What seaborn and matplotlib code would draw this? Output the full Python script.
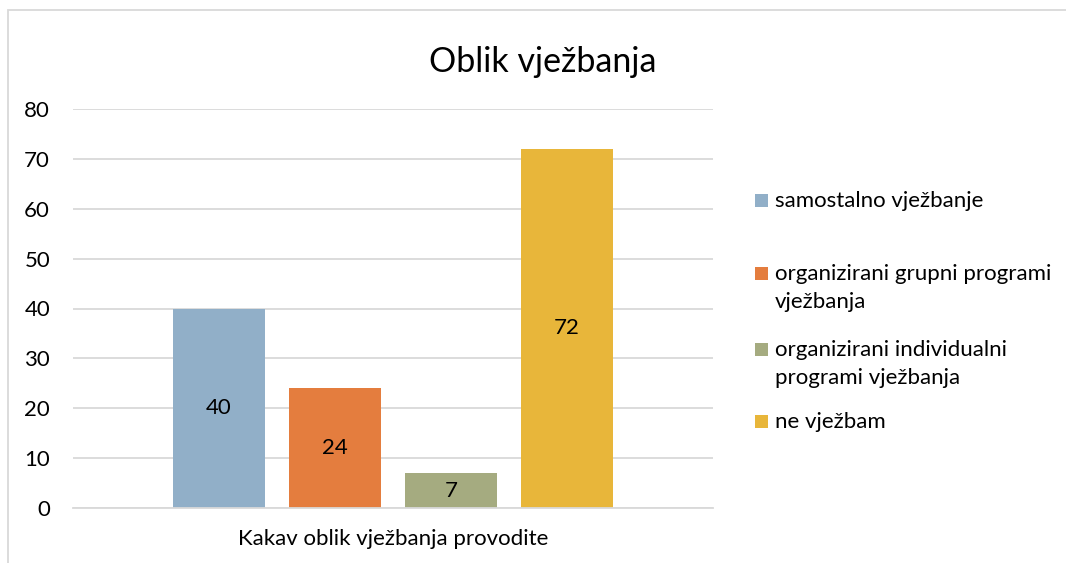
import matplotlib
matplotlib.use("Agg")
import matplotlib.pyplot as plt
import seaborn as sns
import pandas as pd
from matplotlib.patches import Rectangle

categories = ["Kakav oblik vježbanja provodite"]
series = ["samostalno vježbanje",
          "organizirani grupni programi vježbanja",
          "organizirani individualni programi vježbanja",
          "ne vježbam"]
legend_labels = ["samostalno vježbanje",
                 "organizirani grupni programi\nvježbanja",
                 "organizirani individualni\nprogrami vježbanja",
                 "ne vježbam"]
values = [40, 24, 7, 72]
colors = ["#91AFC8", "#E47D3E", "#A5AB80", "#E8B63A"]
title = "Oblik vježbanja"

sns.set_theme(style="white")
plt.rcParams["font.family"] = ["Lato", "DejaVu Sans"]

df = pd.DataFrame({"cat": categories * len(series), "series": series, "value": values})

W, H = 1066, 563
fig = plt.figure(figsize=(W / 100, H / 100), dpi=100)
ax = fig.add_axes([73 / W, 55 / H, 640 / W, 399 / H])

sns.barplot(data=df, x="cat", y="value", hue="series", hue_order=series,
            palette=colors, width=0.725, gap=0.207, legend=False, ax=ax,
            saturation=1, edgecolor="none", linewidth=0)

for c in ax.containers:
    ax.bar_label(c, label_type="center", fontsize=16, color="#000000")

ax.set_ylim(0, 80)
ax.set_xlim(-0.5, 0.5)
ax.set_yticks(range(0, 81, 10))
ax.yaxis.grid(True, color="#D9D9D9", linewidth=1.3)
ax.set_axisbelow(True)
for s in ["top", "right", "left"]:
    ax.spines[s].set_visible(False)
ax.spines["bottom"].set_color("#D9D9D9")
ax.spines["bottom"].set_linewidth(1.3)
ax.tick_params(axis="y", length=0, pad=16.5, labelsize=16, labelcolor="#000000")
ax.tick_params(axis="x", length=0, pad=15, labelsize=16, labelcolor="#000000")
ax.set_xlabel("")
ax.set_ylabel("")

fig.text(543 / W, 1 - 72 / H, title, ha="center", va="baseline", fontsize=24.5, color="#000000")

# legend (manual, Excel-like): baselines of first lines
first_baselines = [207, 280, 356, 428]
line_step = 28
for lab, col, yb in zip(legend_labels, colors, first_baselines):
    fig.patches.append(Rectangle((755 / W, 1 - yb / H), 13 / W, 13 / H,
                                 transform=fig.transFigure, facecolor=col, edgecolor="none"))
    for i, line in enumerate(lab.split("\n")):
        fig.text(775 / W, 1 - (yb + i * line_step) / H, line, ha="left", va="baseline",
                 fontsize=16, color="#000000")

# outer chart border
fig.patches.append(Rectangle((8 / W, -0.05), 1.1, 1 - 10 / H + 0.05, transform=fig.transFigure,
                             facecolor="none", edgecolor="#D9D9D9", linewidth=1.3, clip_on=False))

fig.savefig("out.png", dpi=100)
